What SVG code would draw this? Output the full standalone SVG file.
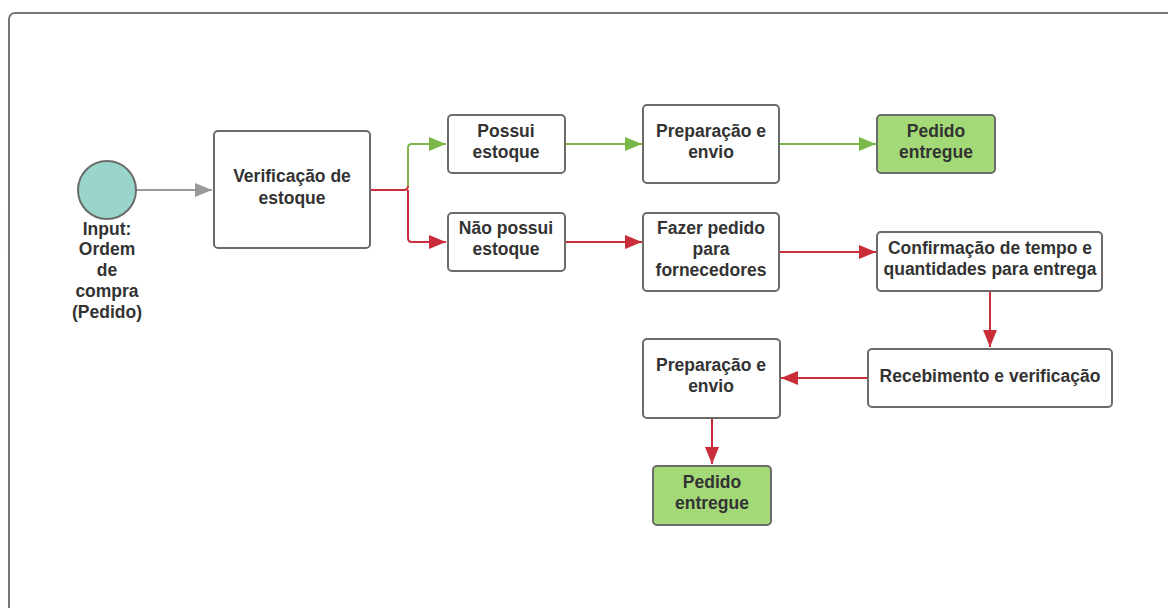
<svg xmlns="http://www.w3.org/2000/svg" width="1168" height="608" viewBox="0 0 1168 608">
<style>
.box{fill:#fff;stroke:#6b6b6b;stroke-width:2}
.done{fill:#a3d977;stroke:#6b6b6b;stroke-width:2}
.t{font-family:"Liberation Sans",Arial,sans-serif;font-weight:bold;font-size:17.5px;fill:#333;text-anchor:middle;dominant-baseline:central}
.red{fill:none;stroke:#c92d39;stroke-width:2}
.green{fill:none;stroke:#7ab648;stroke-width:2}
.gray{fill:none;stroke:#999;stroke-width:2}
</style>
<defs>
<marker id="ar" markerUnits="userSpaceOnUse" markerWidth="18" markerHeight="16" refX="17" refY="8" orient="auto"><path d="M0,1 L17,8 L0,15 Z" fill="#c92d39"/></marker>
<marker id="ag" markerUnits="userSpaceOnUse" markerWidth="18" markerHeight="16" refX="17" refY="8" orient="auto"><path d="M0,1 L17,8 L0,15 Z" fill="#7ab648"/></marker>
<marker id="ay" markerUnits="userSpaceOnUse" markerWidth="18" markerHeight="16" refX="17" refY="8" orient="auto"><path d="M0,1 L17,8 L0,15 Z" fill="#999"/></marker>
</defs>
<rect width="1168" height="608" fill="#fff"/>
<rect x="9" y="13" width="1190" height="640" rx="6" fill="none" stroke="#777" stroke-width="2"/>
<g id="connectors">
<path class="gray" d="M137,190 H212" marker-end="url(#ay)"/>
<path class="red" d="M370,190 H404 Q408,190 408,186"/>
<path class="green" d="M408,186 V148 Q408,144 412,144 H446" marker-end="url(#ag)"/>
<path class="red" d="M408,190 V238 Q408,242 412,242 H446" marker-end="url(#ar)"/>
<path class="green" d="M565,144 H642" marker-end="url(#ag)"/>
<path class="red" d="M565,242 H642" marker-end="url(#ar)"/>
<path class="green" d="M779,144 H876" marker-end="url(#ag)"/>
<path class="red" d="M779,252 H876" marker-end="url(#ar)"/>
<path class="red" d="M990,291 V347" marker-end="url(#ar)"/>
<path class="red" d="M868,378 H781" marker-end="url(#ar)"/>
<path class="red" d="M712,418 V464" marker-end="url(#ar)"/>
</g>
<g id="input">
<circle cx="107" cy="190" r="29" fill="#99d5ca" stroke="#6b6b6b" stroke-width="2"/>
<text class="t" x="107" y="229">Input:</text>
<text class="t" x="107" y="249">Ordem</text>
<text class="t" x="107" y="270">de</text>
<text class="t" x="107" y="291">compra</text>
<text class="t" x="107" y="312">(Pedido)</text>
</g>
<g id="verificacao">
<rect class="box" x="214" y="131" width="156" height="117" rx="4"/>
<text class="t" x="292" y="176">Verificação de</text>
<text class="t" x="292" y="198">estoque</text>
</g>
<g id="possui">
<rect class="box" x="448" y="115" width="117" height="58" rx="4"/>
<text class="t" x="506" y="131">Possui</text>
<text class="t" x="506" y="152">estoque</text>
</g>
<g id="nao-possui">
<rect class="box" x="448" y="213" width="117" height="58" rx="4"/>
<text class="t" x="506" y="228">Não possui</text>
<text class="t" x="506" y="249">estoque</text>
</g>
<g id="preparacao1">
<rect class="box" x="643" y="105" width="136" height="78" rx="4"/>
<text class="t" x="711" y="131">Preparação e</text>
<text class="t" x="711" y="152">envio</text>
</g>
<g id="fazer-pedido">
<rect class="box" x="643" y="213" width="136" height="78" rx="4"/>
<text class="t" x="711" y="228">Fazer pedido</text>
<text class="t" x="711" y="249">para</text>
<text class="t" x="711" y="270">fornecedores</text>
</g>
<g id="entregue1">
<rect class="done" x="877" y="115" width="118" height="58" rx="4"/>
<text class="t" x="936" y="131">Pedido</text>
<text class="t" x="936" y="152">entregue</text>
</g>
<g id="confirmacao">
<rect class="box" x="877" y="232" width="225" height="59" rx="4"/>
<text class="t" x="990" y="248">Confirmação de tempo e</text>
<text class="t" x="990" y="269">quantidades para entrega</text>
</g>
<g id="recebimento">
<rect class="box" x="868" y="349" width="244" height="58" rx="4"/>
<text class="t" x="990" y="376">Recebimento e verificação</text>
</g>
<g id="preparacao2">
<rect class="box" x="643" y="339" width="137" height="79" rx="4"/>
<text class="t" x="711" y="365">Preparação e</text>
<text class="t" x="711" y="386">envio</text>
</g>
<g id="entregue2">
<rect class="done" x="653" y="466" width="118" height="59" rx="4"/>
<text class="t" x="712" y="482">Pedido</text>
<text class="t" x="712" y="503">entregue</text>
</g>
</svg>
